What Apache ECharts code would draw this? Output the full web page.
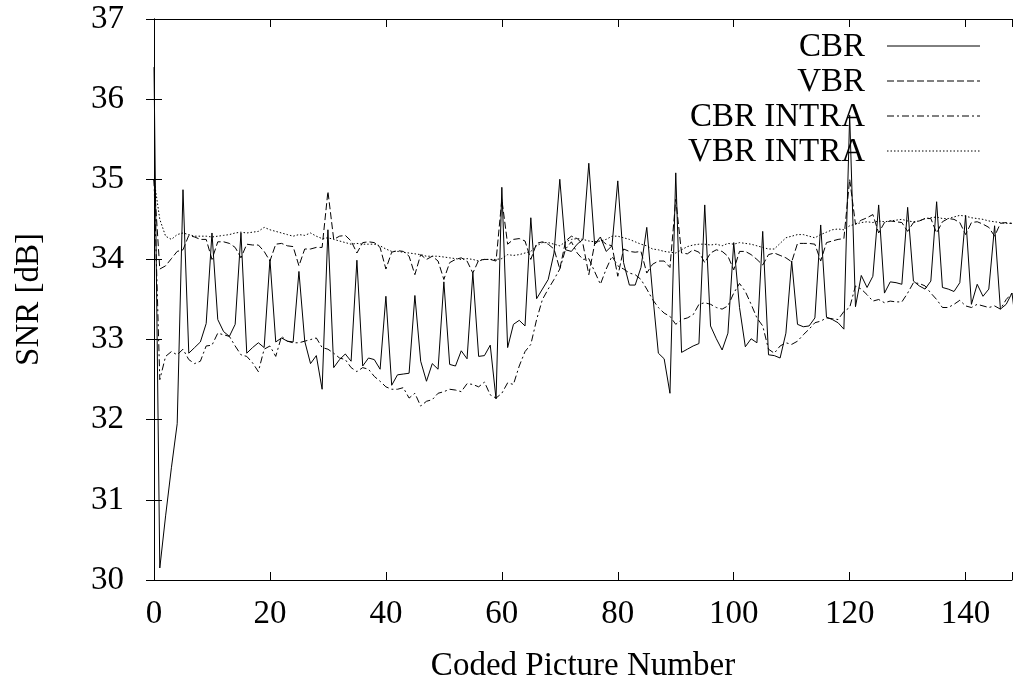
<!DOCTYPE html>
<html>
<head>
<meta charset="utf-8">
<script src="https://cdn.jsdelivr.net/npm/echarts@6/dist/echarts.min.js"></script>
<style>html,body{margin:0;padding:0;background:#fff}#c{width:1015px;height:691px}</style>
</head>
<body>
<div id="c"></div>
<script>
var xTicks = [0, 20, 40, 60, 80, 100, 120, 140];
var yTicks = [30, 31, 32, 33, 34, 35, 36, 37];
var seriesNames = ['CBR', 'VBR', 'CBR INTRA', 'VBR INTRA'];

var cbr = [36.4,30.15,30.8,31.4,31.95,34.87,32.83,32.9,32.97,33.2,
34.33,33.25,33.1,33.04,33.19,34.33,32.83,32.9,32.96,32.9,
34.0,32.97,33.02,32.98,32.97,33.85,32.98,32.7,32.8,32.38,
34.37,32.65,32.75,32.82,32.73,33.99,32.67,32.77,32.75,32.63,
33.54,32.43,32.56,32.57,32.58,33.55,32.73,32.48,32.7,32.63,
33.72,32.69,32.67,32.86,32.76,33.83,32.79,32.8,32.93,32.26,
34.9,32.9,33.19,33.24,33.17,34.52,33.51,33.63,33.75,34.08,
35.0,34.12,34.1,34.19,34.25,35.2,34.19,34.28,34.1,34.17,
34.98,33.96,33.68,33.68,33.9,34.4,33.58,32.83,32.76,32.33,
35.08,32.84,32.88,32.92,32.95,34.68,33.17,33.01,32.87,33.08,
34.21,33.4,32.91,33.01,32.96,34.35,32.81,32.8,32.77,33.08,
33.98,33.19,33.16,33.17,33.27,34.43,33.28,33.25,33.21,33.13,
35.8,33.41,33.8,33.65,33.79,34.68,33.58,33.72,33.71,33.69,
34.65,33.73,33.67,33.63,33.73,34.72,33.65,33.63,33.6,33.71,
34.55,33.44,33.69,33.54,33.63,34.42,33.38,33.44,33.58,33.0];

var vbr = [35.0,33.88,33.92,34.01,34.1,34.12,34.3,34.28,34.25,34.25,
34.0,34.22,34.22,34.2,34.15,34.02,34.19,34.18,34.18,34.1,
33.98,34.19,34.2,34.17,34.16,33.92,34.13,34.13,34.15,34.15,
34.85,34.25,34.29,34.3,34.23,34.08,34.21,34.22,34.21,34.15,
33.88,34.09,34.11,34.1,34.04,33.81,34.06,34.0,34.04,33.98,
33.75,33.96,34.0,34.02,33.98,33.83,33.99,34.0,34.0,33.98,
34.75,34.19,34.25,34.26,34.23,34.0,34.2,34.22,34.19,34.13,
33.88,34.23,34.29,34.26,34.19,33.81,34.19,34.25,34.19,34.17,
33.79,34.13,34.1,34.09,34.1,33.83,33.94,33.98,33.98,33.9,
34.75,34.08,34.07,34.12,34.09,33.96,34.08,34.12,34.1,34.04,
33.87,34.1,34.1,34.06,34.0,33.93,34.06,34.08,34.05,34.02,
33.97,34.2,34.2,34.2,34.19,33.98,34.21,34.23,34.25,34.26,
35.0,34.44,34.49,34.52,34.56,34.33,34.46,34.48,34.47,34.46,
34.35,34.46,34.48,34.51,34.51,34.33,34.47,34.51,34.5,34.46,
34.31,34.46,34.47,34.44,34.4,34.29,34.45,34.46,34.45];

var cbrIntra = [35.0,32.5,32.79,32.85,32.81,32.88,32.75,32.7,32.73,32.92,
32.93,33.08,33.06,33.04,32.92,32.81,32.79,32.71,32.6,32.88,
32.92,32.79,33.04,32.98,32.96,32.96,32.98,33.0,33.02,32.9,
32.88,32.83,32.77,32.75,32.65,32.6,32.65,32.63,32.54,32.48,
32.41,32.38,32.38,32.4,32.27,32.33,32.17,32.23,32.25,32.33,
32.35,32.38,32.37,32.35,32.45,32.44,32.41,32.47,32.31,32.27,
32.33,32.46,32.44,32.67,32.85,32.94,33.25,33.5,33.63,33.75,
33.88,34.13,34.22,34.08,34.0,34.01,33.85,33.69,33.88,34.04,
33.92,33.88,33.83,33.81,33.75,33.63,33.5,33.4,33.33,33.29,
33.19,33.25,33.27,33.31,33.44,33.46,33.44,33.4,33.38,33.42,
33.58,33.7,33.6,33.44,33.27,33.17,32.88,32.83,32.92,32.96,
32.94,32.98,33.06,33.13,33.21,33.23,33.27,33.26,33.25,33.35,
33.4,33.67,33.63,33.56,33.48,33.5,33.46,33.48,33.47,33.47,
33.58,33.71,33.7,33.67,33.58,33.5,33.4,33.4,33.44,33.49,
33.42,33.4,33.44,33.42,33.4,33.42,33.38,33.5,33.58];

var vbrIntra = [35.0,34.5,34.29,34.25,34.31,34.33,34.31,34.29,34.29,34.29,
34.28,34.29,34.3,34.31,34.33,34.34,34.33,34.34,34.35,34.4,
34.37,34.35,34.33,34.31,34.29,34.31,34.3,34.33,34.29,34.26,
34.27,34.25,34.23,34.21,34.19,34.2,34.19,34.19,34.19,34.17,
34.13,34.1,34.1,34.09,34.08,34.07,34.06,34.04,34.04,34.04,
34.03,34.02,34.01,34.0,34.01,34.0,33.98,34.0,34.0,34.0,
34.01,34.06,34.05,34.06,34.08,34.1,34.17,34.21,34.21,34.19,
34.17,34.22,34.25,34.26,34.25,34.23,34.22,34.23,34.25,34.29,
34.29,34.27,34.25,34.22,34.19,34.17,34.13,34.12,34.1,34.09,
34.08,34.12,34.16,34.18,34.19,34.19,34.18,34.19,34.17,34.2,
34.19,34.21,34.2,34.19,34.17,34.15,34.13,34.13,34.2,34.27,
34.29,34.31,34.31,34.29,34.27,34.31,34.34,34.37,34.38,34.37,
34.42,34.44,34.46,34.47,34.46,34.48,34.47,34.48,34.49,34.5,
34.48,34.47,34.48,34.51,34.52,34.53,34.51,34.51,34.53,34.55,
34.54,34.52,34.51,34.5,34.48,34.47,34.46,34.45,34.45];

var dashes = ['solid', [7, 3], [7, 3, 2, 3], [1.5, 2]];
var allValues = [cbr, vbr, cbrIntra, vbrIntra];

function pairs(arr) { return arr.map(function (v, i) { return [i, v]; }); }

var FONT = 'Liberation Serif';
var FS = 33;

var chart = echarts.init(document.getElementById('c'), null, { renderer: 'canvas' });

var series = allValues.map(function (arr, k) {
  return {
    name: seriesNames[k], type: 'line', data: pairs(arr), showSymbol: false, symbol: 'none',
    clip: true, animation: false,
    lineStyle: { color: '#000', width: 1, type: dashes[k] }
  };
});

var legendGraphics = [];
var rowY = [46, 81, 116, 151];
seriesNames.forEach(function (n, k) {
  legendGraphics.push({
    type: 'text', right: 1015 - 865, top: rowY[k] - 15,
    style: { text: n, font: FS + 'px "' + FONT + '"', fill: '#000', textAlign: 'right' }
  });
  legendGraphics.push({
    type: 'line', shape: { x1: 887, y1: rowY[k], x2: 980, y2: rowY[k] },
    style: { stroke: '#000', lineWidth: 1, lineDash: k === 0 ? null : dashes[k] }
  });
});

var axisCommon = {
  axisLine: { show: true, lineStyle: { color: '#000', width: 1 } },
  axisTick: { show: true, inside: true, length: 8, lineStyle: { color: '#000' } },
  splitLine: { show: false }
};

chart.setOption({
  backgroundColor: '#fff',
  animation: false,
  grid: { left: 154, right: 2, top: 19, bottom: 111, containLabel: false },
  xAxis: [
    Object.assign({
      type: 'value', min: xTicks[0], max: 148, interval: 20, position: 'bottom',
      name: 'Coded Picture Number', nameLocation: 'middle', nameGap: 70,
      nameTextStyle: { fontFamily: FONT, fontSize: FS, color: '#000' },
      axisLabel: { fontFamily: FONT, fontSize: FS, color: '#000', margin: 18,
        formatter: function (v) { return xTicks.indexOf(v) >= 0 ? String(v) : ''; } }
    }, axisCommon),
    Object.assign({
      type: 'value', min: xTicks[0], max: 148, interval: 20, position: 'top',
      axisLabel: { show: false }
    }, axisCommon)
  ],
  yAxis: [
    Object.assign({
      type: 'value', min: yTicks[0], max: yTicks[yTicks.length - 1], interval: 1, position: 'left',
      name: 'SNR [dB]', nameLocation: 'middle', nameGap: 108, nameRotate: 90,
      nameTextStyle: { fontFamily: FONT, fontSize: FS, color: '#000' },
      axisLabel: { fontFamily: FONT, fontSize: FS, color: '#000', margin: 30 }
    }, axisCommon),
    Object.assign({
      type: 'value', min: yTicks[0], max: yTicks[yTicks.length - 1], interval: 1, position: 'right',
      axisLabel: { show: false }
    }, axisCommon)
  ],
  series: series,
  graphic: legendGraphics
});
</script>
</body>
</html>
